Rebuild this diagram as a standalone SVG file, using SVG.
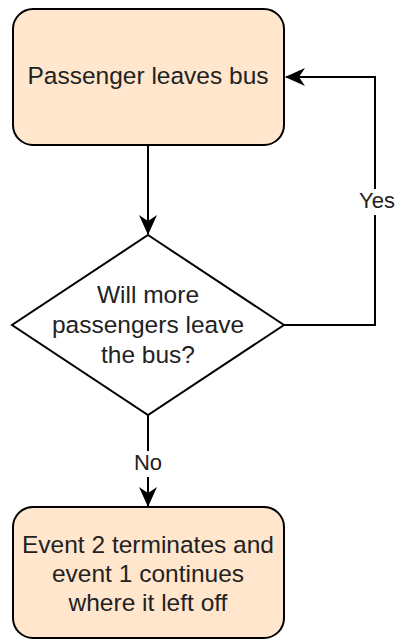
<svg xmlns="http://www.w3.org/2000/svg" width="397" height="640" viewBox="0 0 397 640">
  <style>
    .box { fill: #ffe6cc; stroke: #000; stroke-width: 2; }
    .dec { fill: #fff; stroke: #000; stroke-width: 2; }
    .edge { fill: none; stroke: #000; stroke-width: 2; }
    .t { font-family: "Liberation Sans", Arial, sans-serif; font-size: 24.5px; fill: #222; text-anchor: middle; }
    .lbl { font-family: "Liberation Sans", Arial, sans-serif; font-size: 22px; fill: #222; text-anchor: middle; }
  </style>
  <defs>
    <marker id="arrow" viewBox="0 0 20 18" refX="19" refY="9" markerWidth="20" markerHeight="18" markerUnits="userSpaceOnUse" orient="auto">
      <path d="M0,0 L20,9 L0,18 L6,9 Z" fill="#000"/>
    </marker>
  </defs>
  <rect width="397" height="640" fill="#fff"/>

  <g id="edges">
    <path class="edge" d="M148,145 L148,234" marker-end="url(#arrow)"/>
    <path class="edge" d="M284,325 L375,325 L375,77 L286,77" marker-end="url(#arrow)"/>
    <path class="edge" d="M148,415 L148,506" marker-end="url(#arrow)"/>
    <rect x="358" y="189" width="38" height="26" fill="#fff"/>
    <text class="lbl" x="377" y="208">Yes</text>
    <rect x="132" y="451" width="32" height="26" fill="#fff"/>
    <text class="lbl" x="148" y="470">No</text>
  </g>

  <g id="passenger-leaves">
    <rect class="box" x="13" y="9" width="271" height="136" rx="20" ry="20"/>
    <text class="t" x="148" y="84">Passenger leaves bus</text>
  </g>

  <g id="more-passengers">
    <path class="dec" d="M148,235 L284,325 L148,415 L12,325 Z"/>
    <text class="t" x="148" y="303">Will more</text>
    <text class="t" x="148" y="333">passengers leave</text>
    <text class="t" x="148" y="363">the bus?</text>
  </g>

  <g id="event-ends">
    <rect class="box" x="13" y="507" width="271" height="131" rx="20" ry="20"/>
    <text class="t" x="148" y="553">Event 2 terminates and</text>
    <text class="t" x="148" y="582">event 1 continues</text>
    <text class="t" x="148" y="611">where it left off</text>
  </g>
</svg>
